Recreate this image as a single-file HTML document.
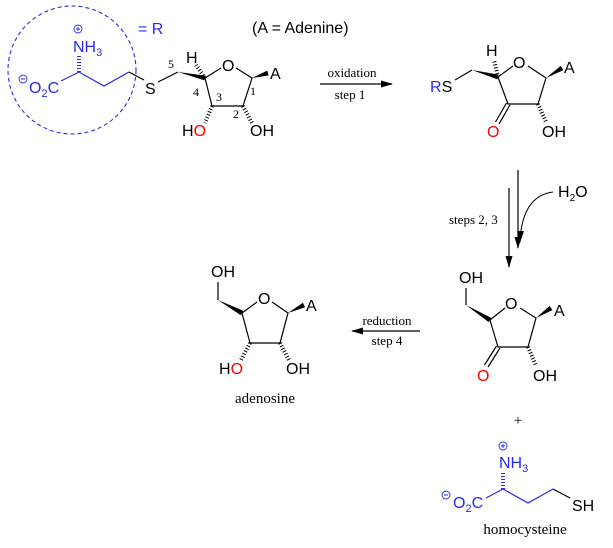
<!DOCTYPE html>
<html><head><meta charset="utf-8"><style>
html,body{margin:0;padding:0;background:#fff}
svg{display:block}
.s{font-family:"Liberation Sans",sans-serif;font-size:16px}
.r{font-family:"Liberation Serif",serif}
.b{stroke:#000;stroke-width:1.2;fill:none}
.bl{stroke:#2a2ae8;stroke-width:1.2;fill:none}
.h{stroke:#000;stroke-width:4;stroke-dasharray:1 2;fill:none}
.hb{stroke:#2a2ae8;stroke-width:4;stroke-dasharray:1 2;fill:none}
</style></head><body>
<svg width="613" height="548" viewBox="0 0 613 548" xmlns="http://www.w3.org/2000/svg">
<defs><marker id="ar" markerWidth="12" markerHeight="7" refX="11" refY="3.5" orient="auto" markerUnits="userSpaceOnUse"><path d="M0,0 L12,3.5 L0,7 Z" fill="#000"/></marker></defs>

<!-- compound 1 -->
<circle cx="72" cy="70" r="64" fill="none" stroke="#2a2ae8" stroke-width="1.1" stroke-dasharray="4 3"/>
<text x="138" y="34" class="s" fill="#2a2ae8">= R</text>
<text x="252" y="33" class="s">(A = Adenine)</text>
<circle cx="78" cy="29" r="4" fill="none" stroke="#2a2ae8" stroke-width="0.9"/><path d="M76,29 H80 M78,27 V31" stroke="#2a2ae8" stroke-width="0.9"/>
<text x="73" y="52" class="s" fill="#2a2ae8">NH<tspan font-size="11" dy="4">3</tspan></text>
<line x1="79" y1="72" x2="79" y2="56" class="hb"/>
<circle cx="23" cy="79" r="4" fill="none" stroke="#2a2ae8" stroke-width="0.9"/><line x1="21" y1="79" x2="25" y2="79" stroke="#2a2ae8"/>
<text x="29" y="93" class="s" fill="#2a2ae8">O<tspan font-size="11" dy="4">2</tspan><tspan dy="-4">C</tspan></text>
<polyline points="61,81 79,72 104,86 129,72" class="bl"/>
<line x1="129" y1="72" x2="144" y2="80" class="b"/>
<text x="145" y="94" class="s">S</text>
<line x1="158" y1="82" x2="178" y2="72" class="b"/>
<text x="168" y="68" class="r" font-size="12">5</text>
<polygon points="178,72 205.5,75.6 204.5,80.4" fill="#000"/>
<line x1="205" y1="78" x2="196" y2="65" class="h"/>
<text x="186" y="63" class="s">H</text>
<polyline points="205,78 221,68" class="b"/>
<text x="222" y="71" class="s">O</text>
<polyline points="236,68 252,78 243,106 212,106 205,78" class="b"/>
<polygon points="252,78 268.7,75.4 267.3,70.6" fill="#000"/>
<text x="270" y="79" class="s">A</text>
<text x="193" y="96" class="r" font-size="12">4</text>
<text x="216" y="101" class="r" font-size="12">3</text>
<text x="233" y="118" class="r" font-size="12">2</text>
<text x="250" y="95" class="r" font-size="12">1</text>
<line x1="212" y1="106" x2="205" y2="123" class="h"/>
<text x="182" y="136" class="s">H<tspan fill="#f00">O</tspan></text>
<line x1="243" y1="106" x2="252" y2="123" class="h"/>
<text x="250" y="136" class="s">OH</text>

<!-- arrow 1 -->
<line x1="320" y1="84" x2="392" y2="84" stroke="#000" stroke-width="1.2" marker-end="url(#ar)"/>
<text x="352" y="77" class="r" font-size="13" text-anchor="middle">oxidation</text>
<text x="350" y="99" class="r" font-size="13" text-anchor="middle">step 1</text>

<!-- compound 2 -->
<text x="430" y="92" class="s"><tspan fill="#2a2ae8">R</tspan>S</text>
<line x1="455" y1="80" x2="472" y2="70" class="b"/>
<polygon points="472,70 498.6,74.6 497.4,79.4" fill="#000"/>
<line x1="498" y1="77" x2="494" y2="60" class="h"/>
<text x="486" y="56" class="s">H</text>
<line x1="498" y1="77" x2="513" y2="66" class="b"/>
<text x="513" y="68" class="s">O</text>
<polyline points="528,66 546,78 538,104 508,104 498,77" class="b"/>
<polygon points="546,78 563.3,70.1 560.7,65.9" fill="#000"/>
<text x="564" y="73" class="s">A</text>
<line x1="506.5" y1="103" x2="495.5" y2="122" class="b"/>
<line x1="510" y1="105" x2="499" y2="124" class="b"/>
<text x="487" y="137" class="s" fill="#f00">O</text>
<line x1="538" y1="104" x2="546" y2="122" class="h"/>
<text x="542" y="137" class="s">OH</text>

<!-- vertical arrows -->
<line x1="518" y1="170" x2="518" y2="248" stroke="#000" stroke-width="1.2" marker-end="url(#ar)"/>
<line x1="509" y1="188" x2="509" y2="267" stroke="#000" stroke-width="1.2" marker-end="url(#ar)"/>
<path d="M553,192 Q522,196 520,242" fill="none" stroke="#000" stroke-width="1" marker-end="url(#ar)"/>
<text x="558" y="197" class="s" font-size="14">H<tspan font-size="10" dy="4">2</tspan><tspan dy="-4">O</tspan></text>
<text x="449" y="224" class="r" font-size="13">steps 2, 3</text>

<!-- compound 3 -->
<text x="459" y="283" class="s">OH</text>
<line x1="466" y1="288" x2="466" y2="305" class="b"/>
<polygon points="466,305 491.3,317.9 488.7,322.1" fill="#000"/>
<line x1="490" y1="320" x2="505" y2="308" class="b"/>
<text x="505" y="309" class="s">O</text>
<polyline points="520,308 536,318 528,347 498,347 490,320" class="b"/>
<polygon points="536,318 552.4,310.1 549.6,305.9" fill="#000"/>
<text x="554" y="316" class="s">A</text>
<line x1="496.5" y1="346" x2="484.5" y2="365" class="b"/>
<line x1="500" y1="348" x2="488" y2="367" class="b"/>
<text x="477" y="381" class="s" fill="#f00">O</text>
<line x1="528" y1="347" x2="536" y2="366" class="h"/>
<text x="533" y="381" class="s">OH</text>

<!-- reduction arrow -->
<line x1="420" y1="331" x2="352" y2="331" stroke="#000" stroke-width="1.2" marker-end="url(#ar)"/>
<text x="387" y="325" class="r" font-size="13" text-anchor="middle">reduction</text>
<text x="387" y="345" class="r" font-size="13" text-anchor="middle">step 4</text>

<!-- adenosine -->
<text x="211" y="277" class="s">OH</text>
<line x1="218" y1="282" x2="218" y2="300" class="b"/>
<polygon points="218,300 243.2,310.8 240.8,315.2" fill="#000"/>
<line x1="242" y1="313" x2="257" y2="302" class="b"/>
<text x="258" y="304" class="s">O</text>
<polyline points="272,302 288,313 280,343 250,343 242,313" class="b"/>
<polygon points="288,313 305.1,307.2 302.9,302.8" fill="#000"/>
<text x="306" y="311" class="s">A</text>
<line x1="250" y1="343" x2="241" y2="360" class="h"/>
<text x="219" y="374" class="s">H<tspan fill="#f00">O</tspan></text>
<line x1="280" y1="343" x2="289" y2="360" class="h"/>
<text x="286" y="374" class="s">OH</text>
<text x="265" y="403" class="r" font-size="15" text-anchor="middle">adenosine</text>

<!-- homocysteine -->
<text x="518" y="425" class="r" font-size="15" text-anchor="middle">+</text>
<circle cx="503" cy="446" r="4" fill="none" stroke="#2a2ae8" stroke-width="0.9"/><path d="M501,446 H505 M503,444 V448" stroke="#2a2ae8" stroke-width="0.9"/>
<text x="499" y="468" class="s" fill="#2a2ae8">NH<tspan font-size="11" dy="4">3</tspan></text>
<line x1="503" y1="489" x2="503" y2="473" class="hb"/>
<circle cx="446" cy="495" r="4" fill="none" stroke="#2a2ae8" stroke-width="0.9"/><line x1="444" y1="495" x2="448" y2="495" stroke="#2a2ae8"/>
<text x="453" y="508" class="s" fill="#2a2ae8">O<tspan font-size="11" dy="4">2</tspan><tspan dy="-4">C</tspan></text>
<polyline points="486,498 503,489 528,503 553,489" class="bl"/>
<line x1="553" y1="489" x2="570" y2="498" class="b"/>
<text x="572" y="511" class="s">SH</text>
<text x="525" y="534" class="r" font-size="15" text-anchor="middle">homocysteine</text>
</svg>
</body></html>
